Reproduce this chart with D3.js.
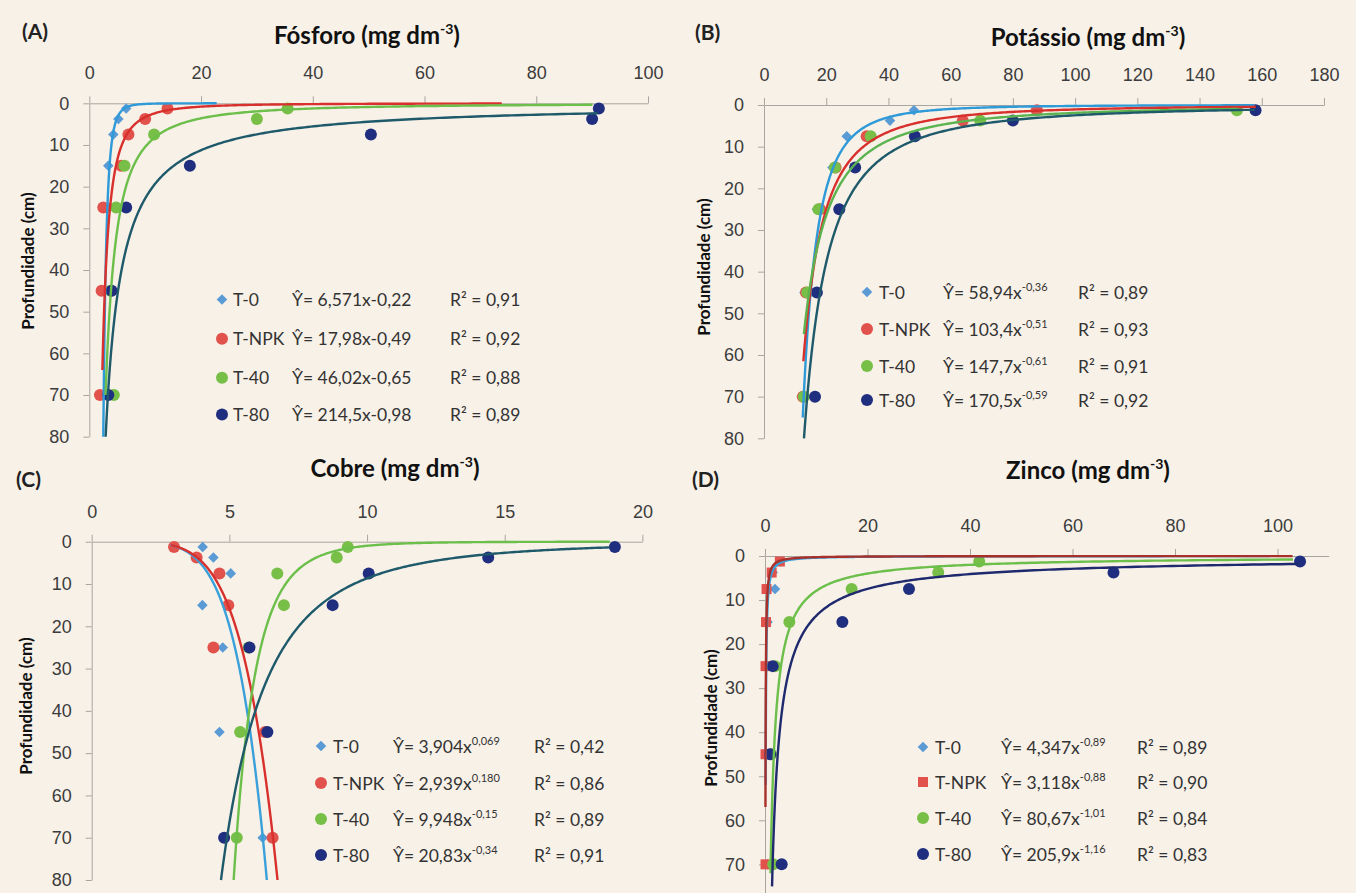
<!DOCTYPE html>
<html>
<head>
<meta charset="utf-8">
<script src="https://cdn.jsdelivr.net/npm/d3@7"></script>
<style>
  body { margin: 0; background: #f8f1e8; }
  svg { display: block; font-family: Lato, 'Open Sans', sans-serif; }
</style>
</head>
<body>
<svg width="1356" height="893"></svg>
<script>
// sampled soil layers (cm), same for all four nutrients
const depths = [1.25, 3.75, 7.5, 15, 25, 45, 70];
const treatments = ['T-0', 'T-NPK', 'T-40', 'T-80'];
const depthTicks = [0, 10, 20, 30, 40, 50, 60, 70, 80];
const zincoDepthTicks = [0, 10, 20, 30, 40, 50, 60, 70];

// (A) Fósforo
const fosforoValues = [
  [6.6, 5.2, 4.3, 3.4, 3.4, 4.0, 3.6],
  [14.0, 10.0, 7.0, 5.7, 2.5, 2.2, 1.9],
  [35.5, 30.0, 11.6, 6.3, 4.8, 3.8, 4.4],
  [91.2, 90.0, 50.4, 18.0, 6.6, 4.0, 3.4]
];
const fosforoFit = [[6.571, -0.22], [17.98, -0.49], [46.02, -0.65], [214.5, -0.98]];
const fosforoFitDepth = [[0.0035, 80], [0.056, 64], [0.356, 70], [2.4, 80]];
const fosforoCoef = ['6,571', '17,98', '46,02', '214,5'];
const fosforoExp = ['-0,22', '-0,49', '-0,65', '-0,98'];
const fosforoR2 = ['0,91', '0,92', '0,88', '0,89'];
const fosforoTicks = [0, 20, 40, 60, 80, 100];

// (B) Potássio
const potassioValues = [
  [48.2, 40.5, 26.6, 22.0, 17.0, 13.0, 12.1],
  [87.7, 63.9, 33.0, 23.0, 18.0, 13.5, 12.5],
  [152.0, 69.5, 34.3, 22.8, 17.5, 13.9, 12.8],
  [158.0, 80.0, 48.5, 29.3, 24.2, 17.0, 16.4]
];
const potassioFit = [[58.94, -0.36], [103.4, -0.51], [147.7, -0.61], [170.5, -0.59]];
const potassioFitDepth = [[0.065, 75], [0.435, 61.5], [0.95, 55], [1.14, 80]];
const potassioCoef = ['58,94', '103,4', '147,7', '170,5'];
const potassioExp = ['-0,36', '-0,51', '-0,61', '-0,59'];
const potassioR2 = ['0,89', '0,93', '0,91', '0,92'];
const potassioTicks = [0, 20, 40, 60, 80, 100, 120, 140, 160, 180];

// (C) Cobre  (T-0 and T-NPK lines)
const cobreValues = [
  [4.03, 4.42, 5.05, 4.02, 4.76, 4.64, 6.21],
  [2.99, 3.81, 4.64, 4.96, 4.42, 6.3, 6.57],
  [9.3, 8.9, 6.74, 6.98, 5.7, 5.39, 5.27],
  [19.0, 14.4, 10.06, 8.75, 5.73, 6.38, 4.81]
];
const cobreFit = [[2.98, 0.173], [3.0, 0.185], [9.948, -0.15], [20.83, -0.34]];
const cobreFitDepth = [[0.8, 80], [0.8, 80], [0.0143, 80], [1.35, 80]];
const cobreCoef = ['3,904', '2,939', '9,948', '20,83'];
const cobreExp = ['0,069', '0,180', '-0,15', '-0,34'];
const cobreR2 = ['0,42', '0,86', '0,89', '0,91'];
const cobreTicks = [0, 5, 10, 15, 20];

// (D) Zinco
const zincoValues = [
  [3.0, 1.5, 1.95, 0.5, 0.4, 1.0, 0.5],
  [2.9, 1.3, 0.3, 0.2, 0.1, 0.1, 0.1],
  [41.8, 33.8, 16.9, 4.75, 2.0, 1.2, 1.6],
  [104.4, 68.0, 28.1, 15.1, 1.5, 1.0, 3.25]
];
const zincoFit = [[4.347, -0.89], [3.118, -0.88], [80.67, -1.01], [205.9, -1.16]];
const zincoFitDepth = [[0.03, 52], [0.0188, 57], [0.785, 72], [1.8, 75]];
const zincoCoef = ['4,347', '3,118', '80,67', '205,9'];
const zincoExp = ['-0,89', '-0,88', '-1,01', '-1,16'];
const zincoR2 = ['0,89', '0,90', '0,84', '0,83'];
const zincoTicks = [0, 20, 40, 60, 80, 100];

const markerColor = ['#5b9bd5', '#e2524d', '#77bf47', '#1f2e7e'];

const panels = [
  { label: '(A)', name: 'Fósforo', values: fosforoValues, fit: fosforoFit, fitDepth: fosforoFitDepth,
    coef: fosforoCoef, exp: fosforoExp, r2: fosforoR2, ticks: fosforoTicks, yticks: depthTicks, xmax: 100,
    x0: 89.3, x1: 648, y0: 103.3, y1: 436.7, supExp: false, shapes: ['diamond', 'circle', 'circle', 'circle'],
    lines: ['#2e9ad8', '#d8302c', '#6cbf4a', '#1f5a6b'],
    lab: [22, 39], title: [367, 44], ytitle: [28, 261],
    leg: { mx: 222, nx: 233, ex: 292, rx: 450, rows: [299.5, 338.7, 377.7, 414.5] } },
  { label: '(B)', name: 'Potássio', values: potassioValues, fit: potassioFit, fitDepth: potassioFitDepth,
    coef: potassioCoef, exp: potassioExp, r2: potassioR2, ticks: potassioTicks, yticks: depthTicks, xmax: 180,
    x0: 764, x1: 1324, y0: 105, y1: 438.3, supExp: true, shapes: ['diamond', 'circle', 'circle', 'circle'],
    lines: ['#2e9ad8', '#d8302c', '#5cb450', '#1f5a6b'],
    lab: [695, 40], title: [1088, 46], ytitle: [704, 267],
    leg: { mx: 867, nx: 879, ex: 943, rx: 1078, rows: [292, 329, 366, 400] } },
  { label: '(C)', name: 'Cobre', values: cobreValues, fit: cobreFit, fitDepth: cobreFitDepth,
    coef: cobreCoef, exp: cobreExp, r2: cobreR2, ticks: cobreTicks, yticks: depthTicks, xmax: 20,
    x0: 91.7, x1: 642.4, y0: 541.7, y1: 880, supExp: true, shapes: ['diamond', 'circle', 'circle', 'circle'],
    lines: ['#3aa0da', '#d8302c', '#6cbf4a', '#1f5a6b'],
    lab: [16, 487], title: [395, 477], ytitle: [26, 706],
    leg: { mx: 321, nx: 333, ex: 393, rx: 534, rows: [746, 783, 819, 855] } },
  { label: '(D)', name: 'Zinco', values: zincoValues, fit: zincoFit, fitDepth: zincoFitDepth,
    coef: zincoCoef, exp: zincoExp, r2: zincoR2, ticks: zincoTicks, yticks: zincoDepthTicks, xmax: 110,
    x0: 765, x1: 1328.75, y0: 556, y1: 908.4, supExp: true, shapes: ['diamond', 'square', 'circle', 'circle'],
    lines: ['#3aa0da', '#a8302a', '#6cbf4a', '#1f2a6e'],
    lab: [692, 487], title: [1088, 479], ytitle: [711, 718],
    leg: { mx: 923, nx: 935, ex: 1001, rx: 1137, rows: [747, 782, 818, 854] } }
];

const svg = d3.select('svg');
svg.append('rect').attr('width', 1356).attr('height', 893).attr('fill', '#f8f1e8');

function marker(g, shape, color) {
  if (shape === 'circle') {
    g.append('circle').attr('r', 6).attr('fill', color);
  } else if (shape === 'square') {
    g.append('rect').attr('x', -5).attr('y', -5).attr('width', 10).attr('height', 10).attr('fill', color);
  } else {
    g.append('path').attr('d', d3.symbol(d3.symbolSquare, 56)()).attr('transform', 'rotate(45)').attr('fill', color);
  }
}

// points along the fitted power curve conc = a * depth^b
function fitCurve(fit, range) {
  const n = 240;
  return d3.range(n + 1).map(i => {
    const d = range[0] * Math.pow(range[1] / range[0], i / n);
    return [fit[0] * Math.pow(d, fit[1]), d];
  });
}

panels.forEach(p => {
  const x = d3.scaleLinear().domain([0, p.xmax]).range([p.x0, p.x1]);
  const y = d3.scaleLinear().domain([0, 80]).range([p.y0, p.y1]);
  const g = svg.append('g');

  // axes
  const xa = g.append('g').attr('transform', 'translate(0,' + p.y0 + ')')
    .call(d3.axisTop(x).tickValues(p.ticks).tickSizeInner(7).tickSizeOuter(0).tickPadding(17));
  const ya = g.append('g').attr('transform', 'translate(' + p.x0 + ',0)')
    .call(d3.axisLeft(y).tickValues(p.yticks).tickSizeInner(6).tickSizeOuter(0).tickPadding(14));
  [xa, ya].forEach(a => {
    a.select('.domain').attr('stroke', '#a9a5a0');
    a.selectAll('.tick line').attr('stroke', '#a9a5a0');
    a.selectAll('.tick text').attr('fill', '#3c3c3c').style('font-size', '18px');
  });

  // markers
  p.values.forEach((vals, s) => {
    vals.forEach((v, i) => {
      const m = g.append('g').attr('transform', 'translate(' + x(v) + ',' + y(depths[i]) + ')');
      marker(m, p.shapes[s], markerColor[s]);
    });
  });

  // trend lines
  const line = d3.line().x(d => x(d[0])).y(d => y(d[1]));
  p.fit.forEach((f, s) => {
    g.append('path').datum(fitCurve(f, p.fitDepth[s]))
      .attr('d', line).attr('fill', 'none')
      .attr('stroke', p.lines[s]).attr('stroke-width', 2.4);
  });

  // titles
  svg.append('text').attr('x', p.lab[0]).attr('y', p.lab[1])
    .style('font-size', '21px').style('font-weight', 'bold').attr('fill', '#222').text(p.label);
  const t = svg.append('text').attr('x', p.title[0]).attr('y', p.title[1]).attr('text-anchor', 'middle')
    .style('font-size', '24px').style('font-weight', 'bold').attr('fill', '#111');
  t.append('tspan').text(p.name + ' (mg dm');
  t.append('tspan').attr('dy', -10).style('font-size', '14px').text('-3');
  t.append('tspan').attr('dy', 10).text(')');
  svg.append('text').attr('transform', 'translate(' + (p.ytitle[0] + 6) + ',' + p.ytitle[1] + ') rotate(-90)')
    .attr('text-anchor', 'middle').style('font-size', '17px').style('font-weight', 'bold').attr('fill', '#111')
    .text('Profundidade (cm)');

  // legend
  treatments.forEach((name, s) => {
    const ry = p.leg.rows[s];
    const m = g.append('g').attr('transform', 'translate(' + p.leg.mx + ',' + ry + ')');
    marker(m, p.shapes[s], markerColor[s]);
    const txt = g.append('g').style('font-size', '17.5px').attr('fill', '#333');
    txt.append('text').attr('x', p.leg.nx).attr('y', ry + 6.5).text(name);
    const eq = txt.append('text').attr('x', p.leg.ex).attr('y', ry + 6.5);
    eq.append('tspan').text('Ŷ= ' + p.coef[s] + 'x');
    if (p.supExp) {
      eq.append('tspan').attr('dy', -8).style('font-size', '11px').text(p.exp[s]);
    } else {
      eq.append('tspan').text(p.exp[s]);
    }
    txt.append('text').attr('x', p.leg.rx).attr('y', ry + 6.5).text('R² = ' + p.r2[s]);
  });
});
</script>
</body>
</html>
